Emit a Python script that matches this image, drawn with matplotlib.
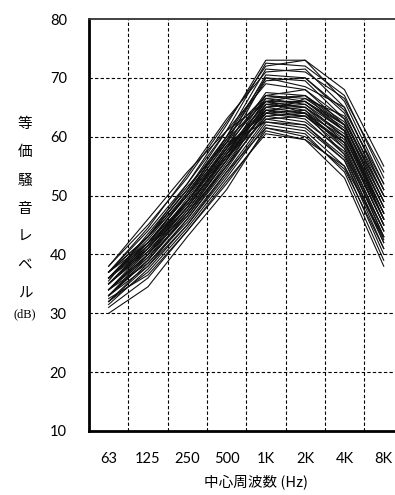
import matplotlib
matplotlib.use("Agg")
import matplotlib.pyplot as plt
import numpy as np

# octave band centre frequencies
bands = ["63", "125", "250", "500", "1K", "2K", "4K", "8K"]

# equivalent noise level per band, one row per measurement (dB)
curves = [
    [37, 44, 52, 62, 73, 73, 68, 55],
    [36, 43, 51, 61, 72.5, 72, 67, 53],
    [38, 45, 53, 62.5, 72, 73, 66, 52],
    [35, 42, 50, 60, 71.5, 71, 66.5, 54],
    [37, 44.5, 53.5, 63, 71, 71.5, 65, 51],
    [36, 42, 50, 59, 70.5, 70, 64, 50],
    [34, 41, 49, 58, 70, 69.5, 63, 49],
    [37, 43, 51, 60, 70, 68.5, 65, 51],
    [35, 41.5, 50.5, 59.5, 69.5, 70, 64.5, 52],
    [36, 43, 52, 61, 69, 68, 62, 48],
    [35, 41, 49, 58, 67.5, 67, 62, 48],
    [36, 42, 50, 59, 67, 66, 61, 47],
    [34, 40, 48, 57, 67, 68, 63, 50],
    [37, 43, 51, 60, 67, 66.5, 62, 49],
    [33, 39, 47, 56, 66.5, 67, 61, 46],
    [35, 41, 49.5, 58.5, 66.5, 65.5, 60, 46],
    [36, 42.5, 50.5, 59.5, 66, 66, 61, 48],
    [34, 40.5, 48, 57, 66, 67, 62.5, 50],
    [35, 41.5, 49, 57.5, 66, 65, 59, 45],
    [33, 39.5, 47.5, 56.5, 65.5, 66, 61.5, 47],
    [37, 43, 50, 58, 65.5, 64.5, 58, 44],
    [34, 40, 47, 56, 65.5, 65, 60.5, 47],
    [36, 41, 48.5, 57.5, 65, 66, 62, 49],
    [32, 38, 46, 55, 65, 64, 58.5, 44],
    [35, 41, 48, 57, 65, 65.5, 61, 46],
    [33, 39, 46.5, 55.5, 64.5, 64, 59, 45],
    [36, 42, 49, 58, 64.5, 63.5, 58, 43],
    [34, 40, 47.5, 56, 64.5, 65, 60, 46],
    [35, 40.5, 48, 56.5, 64, 64.5, 59.5, 45],
    [32, 38.5, 46, 54.5, 64, 63, 57, 42],
    [37, 42, 49, 57, 64, 63.5, 59, 46],
    [33, 39, 47, 55, 63.5, 64, 60, 47],
    [34, 39.5, 46.5, 55, 63.5, 62.5, 57.5, 43],
    [36, 41.5, 48.5, 56.5, 63, 63.5, 59, 45],
    [31.5, 37.5, 45, 54, 63, 62, 56, 41],
    [33, 38, 45, 53.5, 62.5, 61.5, 56, 42],
    [32, 37, 44.5, 53, 62, 61, 55, 40],
    [34, 38.5, 45.5, 54, 61.5, 60, 54.5, 41],
    [31, 36, 44, 52, 61, 59.5, 53, 38],
    [30, 34.5, 43, 51, 61.5, 60.5, 54, 39],
    [32.5, 36.5, 44, 52.5, 60.5, 59.5, 55, 43],
    [38, 46, 54, 61, 66, 64, 57, 44],
    [33, 40, 49, 58.5, 64, 66.5, 63.5, 51],
    [35.5, 43.5, 51.5, 59, 62.5, 62, 56.5, 42.5],
]

fig = plt.figure(figsize=(3.95, 4.95), dpi=100)
ax = fig.add_axes([0.2253, 0.1293, 0.796, 0.8323])

x = np.arange(len(bands))
for row in curves:
    ax.plot(x, row, color="#111111", lw=0.8)

ax.set_xlim(-0.5, len(bands) - 0.5)
ax.set_ylim(10, 80)
ax.set_xticks(x)
ax.set_xticklabels(bands, family="Lato", fontsize=10.5)
ax.set_yticks(range(10, 81, 10))
ax.set_yticklabels([str(v) for v in range(10, 81, 10)], family="Lato", fontsize=10.5)
ax.tick_params(axis="x", length=0, pad=15)
ax.tick_params(axis="y", length=0, pad=16)

# dashed grid on the band boundaries and every 10 dB
for b in np.arange(0.5, len(bands) - 0.5, 1):
    ax.axvline(b, color="black", lw=0.8, ls=(0, (3, 2)), zorder=0)
for v in range(20, 80, 10):
    ax.axhline(v, color="black", lw=0.8, ls=(0, (3, 2)), zorder=0)

for side in ["left", "bottom"]:
    ax.spines[side].set_linewidth(2)
ax.spines["top"].set_linewidth(1.3)
ax.spines["top"].set_color("#333333")

# vertical y-axis title
for i, ch in enumerate("等価騒音レベル"):
    fig.text(25 / 395, 1 - (124 + i * 28.3) / 495, ch, ha="center", va="center",
             family=["Noto Sans CJK JP"], fontsize=10.5)
fig.text(25 / 395, 1 - 314 / 495, "(dB)", ha="center", va="center",
         family="Liberation Serif", fontsize=9)

fig.text(256 / 395, 1 - 482 / 495, "中心周波数 (Hz)", ha="center", va="center",
         family=["Noto Sans CJK JP", "DejaVu Sans"], fontsize=10.5)

fig.savefig("out.png", dpi=100)
